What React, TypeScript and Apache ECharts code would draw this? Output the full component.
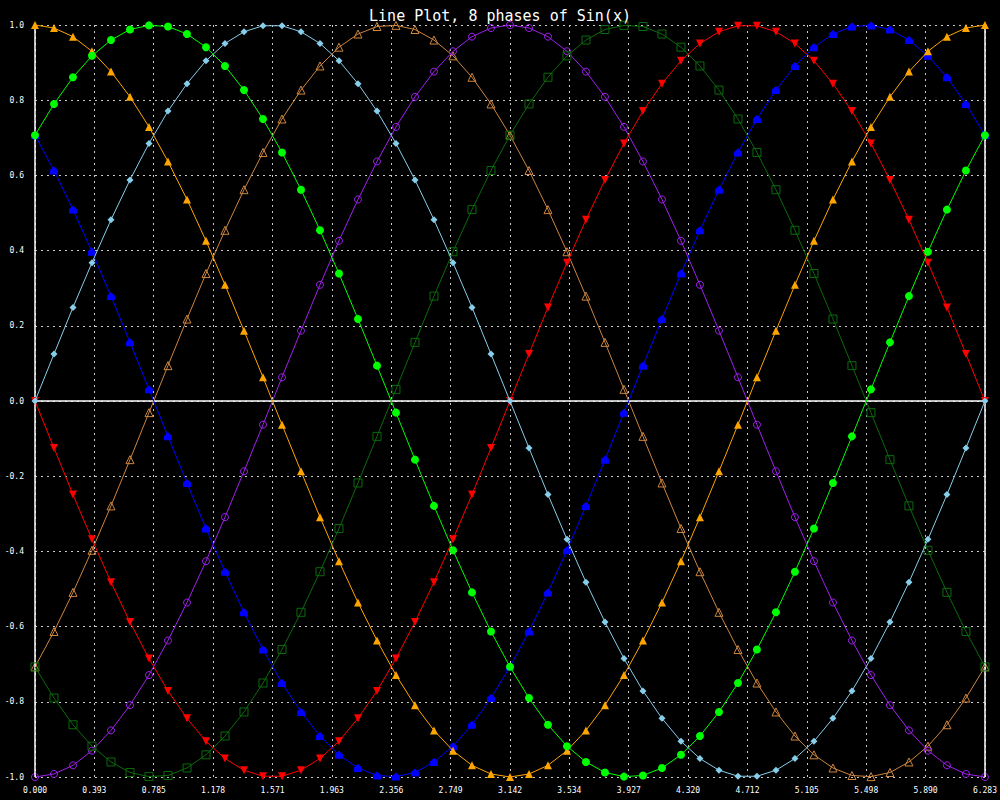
import React, { useEffect, useRef } from "react";
import * as echarts from "echarts";

const TITLE = "Line Plot, 8 phases of Sin(x)";

const xs = [
  0, 0.1257, 0.2513, 0.377, 0.5027, 0.6283, 0.754, 0.8796, 1.0053, 1.131,
  1.2566, 1.3823, 1.508, 1.6336, 1.7593, 1.885, 2.0106, 2.1363, 2.2619, 2.3876,
  2.5133, 2.6389, 2.7646, 2.8903, 3.0159, 3.1416, 3.2673, 3.3929, 3.5186, 3.6442,
  3.7699, 3.8956, 4.0212, 4.1469, 4.2726, 4.3982, 4.5239, 4.6496, 4.7752, 4.9009,
  5.0265, 5.1522, 5.2779, 5.4035, 5.5292, 5.6549, 5.7805, 5.9062, 6.0319, 6.1575,
  6.2832,
];

const xTicks = [
  "0.000", "0.393", "0.785", "1.178", "1.571", "1.963", "2.356", "2.749", "3.142",
  "3.534", "3.927", "4.320", "4.712", "5.105", "5.498", "5.890", "6.283",
];

// phase 0: sin(x)
const skyblueVals = [
  0, 0.125, 0.249, 0.368, 0.482, 0.588, 0.685, 0.771, 0.844, 0.905,
  0.951, 0.982, 0.998, 0.998, 0.982, 0.951, 0.905, 0.844, 0.771, 0.685,
  0.588, 0.482, 0.368, 0.249, 0.125, 0, -0.125, -0.249, -0.368, -0.482,
  -0.588, -0.685, -0.771, -0.844, -0.905, -0.951, -0.982, -0.998, -0.998, -0.982,
  -0.951, -0.905, -0.844, -0.771, -0.685, -0.588, -0.482, -0.368, -0.249, -0.125,
  0,
];

// phase pi/4
const greenVals = [
  0.707, 0.79, 0.861, 0.918, 0.96, 0.988, 0.999, 0.996, 0.976, 0.941,
  0.891, 0.827, 0.75, 0.661, 0.562, 0.454, 0.339, 0.218, 0.094, -0.031,
  -0.156, -0.279, -0.397, -0.509, -0.613, -0.707, -0.79, -0.861, -0.918, -0.96,
  -0.988, -0.999, -0.996, -0.976, -0.941, -0.891, -0.827, -0.75, -0.661, -0.562,
  -0.454, -0.339, -0.218, -0.094, 0.031, 0.156, 0.279, 0.397, 0.509, 0.613,
  0.707,
];

// phase pi/2
const orangeVals = [
  1, 0.992, 0.969, 0.93, 0.876, 0.809, 0.729, 0.637, 0.536, 0.426,
  0.309, 0.187, 0.063, -0.063, -0.187, -0.309, -0.426, -0.536, -0.637, -0.729,
  -0.809, -0.876, -0.93, -0.969, -0.992, -1, -0.992, -0.969, -0.93, -0.876,
  -0.809, -0.729, -0.637, -0.536, -0.426, -0.309, -0.187, -0.063, 0.063, 0.187,
  0.309, 0.426, 0.536, 0.637, 0.729, 0.809, 0.876, 0.93, 0.969, 0.992,
  1,
];

// phase 3pi/4
const blueVals = [
  0.707, 0.613, 0.509, 0.397, 0.279, 0.156, 0.031, -0.094, -0.218, -0.339,
  -0.454, -0.562, -0.661, -0.75, -0.827, -0.891, -0.941, -0.976, -0.996, -0.999,
  -0.988, -0.96, -0.918, -0.861, -0.79, -0.707, -0.613, -0.509, -0.397, -0.279,
  -0.156, -0.031, 0.094, 0.218, 0.339, 0.454, 0.562, 0.661, 0.75, 0.827,
  0.891, 0.941, 0.976, 0.996, 0.999, 0.988, 0.96, 0.918, 0.861, 0.79,
  0.707,
];

// phase pi
const redVals = [
  0, -0.125, -0.249, -0.368, -0.482, -0.588, -0.685, -0.771, -0.844, -0.905,
  -0.951, -0.982, -0.998, -0.998, -0.982, -0.951, -0.905, -0.844, -0.771, -0.685,
  -0.588, -0.482, -0.368, -0.249, -0.125, 0, 0.125, 0.249, 0.368, 0.482,
  0.588, 0.685, 0.771, 0.844, 0.905, 0.951, 0.982, 0.998, 0.998, 0.982,
  0.951, 0.905, 0.844, 0.771, 0.685, 0.588, 0.482, 0.368, 0.249, 0.125,
  0,
];

// phase 5pi/4
const darkgreenVals = [
  -0.707, -0.79, -0.861, -0.918, -0.96, -0.988, -0.999, -0.996, -0.976, -0.941,
  -0.891, -0.827, -0.75, -0.661, -0.562, -0.454, -0.339, -0.218, -0.094, 0.031,
  0.156, 0.279, 0.397, 0.509, 0.613, 0.707, 0.79, 0.861, 0.918, 0.96,
  0.988, 0.999, 0.996, 0.976, 0.941, 0.891, 0.827, 0.75, 0.661, 0.562,
  0.454, 0.339, 0.218, 0.094, -0.031, -0.156, -0.279, -0.397, -0.509, -0.613,
  -0.707,
];

// phase 3pi/2
const purpleVals = [
  -1, -0.992, -0.969, -0.93, -0.876, -0.809, -0.729, -0.637, -0.536, -0.426,
  -0.309, -0.187, -0.063, 0.063, 0.187, 0.309, 0.426, 0.536, 0.637, 0.729,
  0.809, 0.876, 0.93, 0.969, 0.992, 1, 0.992, 0.969, 0.93, 0.876,
  0.809, 0.729, 0.637, 0.536, 0.426, 0.309, 0.187, 0.063, -0.063, -0.187,
  -0.309, -0.426, -0.536, -0.637, -0.729, -0.809, -0.876, -0.93, -0.969, -0.992,
  -1,
];

// phase 7pi/4
const peruVals = [
  -0.707, -0.613, -0.509, -0.397, -0.279, -0.156, -0.031, 0.094, 0.218, 0.339,
  0.454, 0.562, 0.661, 0.75, 0.827, 0.891, 0.941, 0.976, 0.996, 0.999,
  0.988, 0.96, 0.918, 0.861, 0.79, 0.707, 0.613, 0.509, 0.397, 0.279,
  0.156, 0.031, -0.094, -0.218, -0.339, -0.454, -0.562, -0.661, -0.75, -0.827,
  -0.891, -0.941, -0.976, -0.996, -0.999, -0.988, -0.96, -0.918, -0.861, -0.79,
  -0.707,
];

const HOUSE = "path://M0,4 L4,0 L8,4 L8,9 L0,9 Z";

type Spec = {
  name: string;
  vals: number[];
  color: string;
  symbol: string;
  size: number;
  rotate?: number;
  hollow?: boolean;
};

const specs: Spec[] = [
  { name: "phase 7pi/4", vals: peruVals, color: "#CD853F", symbol: "triangle", size: 8, hollow: true },
  { name: "phase 3pi/2", vals: purpleVals, color: "#A020F0", symbol: "circle", size: 7, hollow: true },
  { name: "phase 5pi/4", vals: darkgreenVals, color: "#0B6B0B", symbol: "rect", size: 8, hollow: true },
  { name: "phase pi", vals: redVals, color: "#FF0000", symbol: "triangle", size: 8, rotate: 180 },
  { name: "phase 3pi/4", vals: blueVals, color: "#0000FF", symbol: HOUSE, size: 8 },
  { name: "phase 0", vals: skyblueVals, color: "#87CEEB", symbol: "diamond", size: 7 },
  { name: "phase pi/2", vals: orangeVals, color: "#FFA500", symbol: "triangle", size: 8 },
  { name: "phase pi/4", vals: greenVals, color: "#00FF00", symbol: "circle", size: 8 },
];

const MONO = "'DejaVu Sans Mono', 'Liberation Mono', monospace";

export default function App() {
  const ref = useRef<HTMLDivElement>(null);
  useEffect(() => {
    document.body.style.margin = "0";
    const chart = echarts.init(ref.current!, null, { renderer: "svg" });
    const series: any[] = specs.map((s, idx) => ({
      name: s.name,
      type: "line",
      data: xs.map((x, i) => [x, s.vals[i]]),
      symbol: s.symbol,
      symbolSize: s.size,
      symbolRotate: s.rotate || 0,
      showAllSymbol: true,
      lineStyle: { color: s.color, width: 1 },
      itemStyle: s.hollow
        ? { color: "rgba(0,0,0,0)", borderColor: s.color, borderWidth: 1 }
        : { color: s.color, borderWidth: 0 },
      z: 3 + idx,
    }));
    series.unshift({
      name: "axes",
      type: "line",
      data: [],
      markLine: {
        silent: true,
        symbol: "none",
        label: { show: false },
        lineStyle: { color: "#ffffff", type: "solid", width: 1.5 },
        data: [{ yAxis: 0 }, { xAxis: 0 }, { xAxis: 6.2832 }],
      },
      z: 2,
    });
    chart.setOption({
      animation: false,
      backgroundColor: "#000000",
      title: {
        text: TITLE,
        left: "center",
        top: 3,
        textStyle: { color: "#ffffff", fontFamily: MONO, fontSize: 15, fontWeight: "normal" },
      },
      grid: { left: 35, right: 14, top: 25, bottom: 23, containLabel: false },
      xAxis: {
        type: "value",
        min: 0,
        max: 6.2832,
        interval: 0.3927,
        axisLine: { show: false, onZero: false },
        axisTick: { show: false },
        axisLabel: {
          color: "#ffffff",
          fontFamily: MONO,
          fontSize: 8,
          margin: 9,
          showMinLabel: true,
          showMaxLabel: true,
          formatter: (v: number) => {
            const k = Math.round(v / 0.3927);
            return xTicks[k] ?? "";
          },
        },
        splitLine: { show: true, lineStyle: { color: "#c8c8c8", type: [2, 4], width: 1 } },
      },
      yAxis: {
        type: "value",
        min: -1,
        max: 1,
        interval: 0.2,
        axisLine: { show: false },
        axisTick: { show: false },
        axisLabel: {
          color: "#ffffff",
          fontFamily: MONO,
          fontSize: 8,
          margin: 11,
          formatter: (v: number) => v.toFixed(1),
        },
        splitLine: { show: true, lineStyle: { color: "#c8c8c8", type: [2, 4], width: 1 } },
      },
      series,
    });
    return () => chart.dispose();
  }, []);
  return <div ref={ref} style={{ width: 1000, height: 800 }} />;
}
